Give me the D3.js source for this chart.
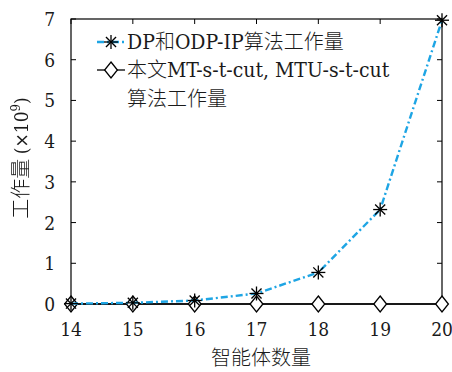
<!DOCTYPE html>
<html>
<head>
<meta charset="utf-8">
<script src="https://cdn.jsdelivr.net/npm/d3@7/dist/d3.min.js"></script>
<style>
  html, body { margin: 0; padding: 0; background: #fff; }
  svg { display: block; }
  text, tspan { fill: #1a1a1a; }
  .sf { font-family: "DejaVu Serif Condensed", "DejaVu Serif", serif; font-stretch: condensed; }
  .cj { font-family: "Noto Sans CJK SC", sans-serif; font-weight: 300; }
</style>
</head>
<body>
<svg id="chart" width="452" height="372"></svg>
<script>
// Number of agents (x axis)
const agents = [14, 15, 16, 17, 18, 19, 20];
// Workload in units of 1e9
const dpOdpIp = [0.0096, 0.029, 0.086, 0.258, 0.775, 2.32, 6.97];
const mtCut = [0, 0, 0, 0, 0, 0, 0];
const yTicks = [0, 1, 2, 3, 4, 5, 6, 7];
const seriesNames = ["DP和ODP-IP算法工作量", "本文MT-s-t-cut, MTU-s-t-cut", "算法工作量"];

const svg = d3.select("#chart");
const m = { left: 71, right: 442, top: 19, bottom: 304 };

// Grayscale filter keeps rotated glyph antialiasing neutral
const defs = svg.append("defs");
defs.append("filter").attr("id", "gray")
  .append("feColorMatrix").attr("type", "saturate").attr("values", 0);

const x = d3.scaleLinear().domain([14, 20]).range([m.left, m.right]);
const y = d3.scaleLinear().domain([0, 7]).range([m.bottom, m.top]);

// Frame
svg.append("rect")
  .attr("x", m.left).attr("y", m.top)
  .attr("width", m.right - m.left).attr("height", m.bottom - m.top)
  .attr("fill", "none").attr("stroke", "#000").attr("stroke-width", 1.2);

// Inward ticks on all four sides
const tl = 5;
agents.forEach(v => {
  svg.append("line").attr("x1", x(v)).attr("x2", x(v)).attr("y1", m.bottom).attr("y2", m.bottom - tl).attr("stroke", "#000");
  svg.append("line").attr("x1", x(v)).attr("x2", x(v)).attr("y1", m.top).attr("y2", m.top + tl).attr("stroke", "#000");
});
yTicks.forEach(v => {
  svg.append("line").attr("x1", m.left).attr("x2", m.left + tl).attr("y1", y(v)).attr("y2", y(v)).attr("stroke", "#000");
  svg.append("line").attr("x1", m.right).attr("x2", m.right - tl).attr("y1", y(v)).attr("y2", y(v)).attr("stroke", "#000");
});

// Tick labels
svg.append("g").selectAll("text").data(agents).join("text")
  .attr("class", "sf")
  .attr("x", d => x(d)).attr("y", m.bottom + 32)
  .attr("text-anchor", "middle")
  .style("font-size", "19px")
  .text(d => d);
svg.append("g").selectAll("text").data(yTicks).join("text")
  .attr("class", "sf")
  .attr("x", m.left - 16).attr("y", d => y(d) + 7)
  .attr("text-anchor", "end")
  .style("font-size", "19px")
  .text(d => d);

// Axis titles
svg.append("text")
  .attr("class", "cj")
  .attr("x", 261).attr("y", 365)
  .attr("text-anchor", "middle")
  .style("font-size", "20px")
  .text("智能体数量");

const yl = svg.append("text")
  .attr("transform", `translate(28, 158) rotate(-90)`)
  .attr("text-anchor", "middle")
  .attr("filter", "url(#gray)")
  .style("font-size", "19px");
yl.append("tspan").attr("class", "cj").style("font-size", "20px").text("工作量 ");
yl.append("tspan").attr("class", "sf").text("(×10");
yl.append("tspan").attr("class", "sf").style("font-size", "13px").attr("dy", -8).text("9");
yl.append("tspan").attr("class", "sf").attr("dy", 8).text(")");

// Markers
function star(g, cx, cy, r) {
  const s = g.append("g").attr("stroke", "#000").attr("stroke-width", 1.3);
  s.append("line").attr("x1", cx - r).attr("x2", cx + r).attr("y1", cy).attr("y2", cy);
  s.append("line").attr("x1", cx).attr("x2", cx).attr("y1", cy - r).attr("y2", cy + r);
  const d = r * 0.72;
  s.append("line").attr("x1", cx - d).attr("x2", cx + d).attr("y1", cy - d).attr("y2", cy + d);
  s.append("line").attr("x1", cx - d).attr("x2", cx + d).attr("y1", cy + d).attr("y2", cy - d);
}
function diamond(g, cx, cy, r) {
  g.append("path")
    .attr("d", `M${cx},${cy - r}L${cx + r * 0.8},${cy}L${cx},${cy + r}L${cx - r * 0.8},${cy}Z`)
    .attr("fill", "#fff").attr("stroke", "#000").attr("stroke-width", 1.3);
}

const line = d3.line().x((d, i) => x(agents[i])).y(d => y(d));
const blue = "#1ea5e4";

// Proposed method series (black solid, diamonds)
svg.append("path").datum(mtCut).attr("d", line)
  .attr("fill", "none").attr("stroke", "#000").attr("stroke-width", 1.3);
const gD = svg.append("g");
mtCut.forEach((v, i) => diamond(gD, x(agents[i]), y(v), 8));

// DP / ODP-IP series (blue dash-dot, asterisks)
svg.append("path").datum(dpOdpIp).attr("d", line)
  .attr("fill", "none").attr("stroke", blue).attr("stroke-width", 2.4)
  .attr("stroke-dasharray", "7,3,2,3");
const gS = svg.append("g");
dpOdpIp.forEach((v, i) => star(gS, x(agents[i]), y(v), 7));

// Legend
const lg = svg.append("g");
const lx0 = 97, lx1 = 125, lmid = 111;
lg.append("line").attr("x1", lx0).attr("x2", lx1).attr("y1", 42).attr("y2", 42)
  .attr("stroke", blue).attr("stroke-width", 2.4).attr("stroke-dasharray", "7,3,2,3");
star(lg, lmid, 42, 7);
lg.append("line").attr("x1", lx0).attr("x2", lx1).attr("y1", 70).attr("y2", 70)
  .attr("stroke", "#000").attr("stroke-width", 1.3);
diamond(lg, lmid, 70, 8);

function mixed(t, px, py) {
  const el = lg.append("text").attr("x", px).attr("y", py);
  // split into CJK and Latin runs so each uses its own face
  const runs = t.match(/[\u4e00-\u9fff]+|[^\u4e00-\u9fff]+/g);
  runs.forEach(r => {
    const isCjk = /[\u4e00-\u9fff]/.test(r);
    el.append("tspan")
      .attr("class", isCjk ? "cj" : "sf")
      .style("font-size", isCjk ? "20px" : "21px")
      .text(r);
  });
}
mixed(seriesNames[0], 127, 49);
mixed(seriesNames[1], 127, 77);
mixed(seriesNames[2], 127, 106);
</script>
</body>
</html>
